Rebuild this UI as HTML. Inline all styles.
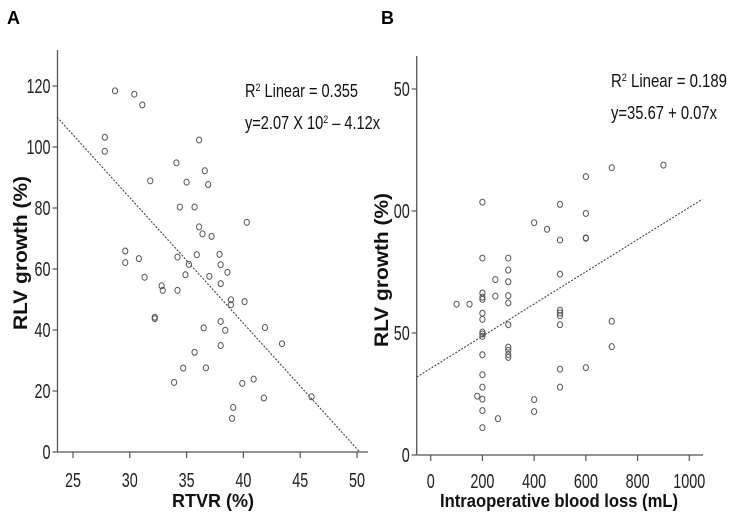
<!DOCTYPE html>
<html><head><meta charset="utf-8"><style>
html,body{margin:0;padding:0;background:#fff;}
svg{display:block;font-family:"Liberation Sans Narrow","Liberation Sans",sans-serif;}
</style></head><body>
<div style="position:relative;width:729px;height:532px">
<svg id="fig" width="729" height="532" viewBox="0 0 729 532" xmlns="http://www.w3.org/2000/svg">
<text x="7" y="24" font-family="Liberation Sans" font-weight="bold" font-size="18">A</text>
<text x="381" y="24" font-family="Liberation Sans" font-weight="bold" font-size="18">B</text>
<g id="pa"></g>
<g id="pb"></g>
</svg>
<div style="position:absolute;left:0;top:0;width:729px;height:532px;pointer-events:none">
<svg width="729" height="532" xmlns="http://www.w3.org/2000/svg" style="font-family:'Liberation Sans Narrow','Liberation Sans',sans-serif">
<text transform="translate(27,253) rotate(-90)" text-anchor="middle" font-family="Liberation Sans" font-weight="bold" font-size="19" fill="#111" textLength="154" lengthAdjust="spacingAndGlyphs">RLV growth (%)</text>
<text x="213" y="507" text-anchor="middle" font-family="Liberation Sans" font-weight="bold" font-size="18" fill="#111">RTVR (%)</text>
<text x="245" y="97" font-size="18" fill="#111" textLength="113" lengthAdjust="spacingAndGlyphs">R<tspan font-size="11" dy="-6">2</tspan><tspan dy="6"> Linear = 0.355</tspan></text>
<text x="245" y="129" font-size="18" fill="#111" textLength="135" lengthAdjust="spacingAndGlyphs">y=2.07 X 10<tspan font-size="11" dy="-6">2</tspan><tspan dy="6"> – 4.12x</tspan></text>
<text transform="translate(388,270) rotate(-90)" text-anchor="middle" font-family="Liberation Sans" font-weight="bold" font-size="19" fill="#111" textLength="154" lengthAdjust="spacingAndGlyphs">RLV growth (%)</text>
<text x="559" y="507" text-anchor="middle" font-family="Liberation Sans" font-weight="bold" font-size="18" fill="#111" textLength="238" lengthAdjust="spacingAndGlyphs">Intraoperative blood loss (mL)</text>
<text x="611" y="87" font-size="18" fill="#111" textLength="116" lengthAdjust="spacingAndGlyphs">R<tspan font-size="11" dy="-6">2</tspan><tspan dy="6"> Linear = 0.189</tspan></text>
<text x="611" y="119" font-size="18" fill="#111" textLength="106" lengthAdjust="spacingAndGlyphs">y=35.67 + 0.07x</text>
</svg>
</div>
</div>
<script>
// Panel A data
const aX = [28.7,30.4,31.1,27.8,27.8,36.1,34.1,36.6,35.0,36.9,31.8,34.4,35.7,40.3,36.1,36.4,37.2,29.6,29.6,30.8,34.2,35.9,35.2,37.9,38.0,38.6,37.0,34.9,31.3,32.8,32.9,34.2,38.0,38.9,38.9,40.1,32.2,32.2,38.0,36.5,38.4,41.9,43.4,38.0,35.7,34.7,36.7,33.9,39.9,40.9,41.8,46.0,39.1,39.0];
const aY = [118.4,117.3,113.8,103.2,98.6,102.3,94.8,92.2,88.5,87.7,88.9,80.3,80.3,75.3,73.8,71.5,70.7,65.9,62.1,63.4,63.9,64.7,61.5,64.8,61.4,58.9,57.6,58.1,57.3,54.5,53.0,53.0,55.2,49.9,48.3,49.3,44.2,43.7,42.8,40.7,39.9,40.8,35.5,34.9,32.7,27.5,27.6,22.8,22.5,23.9,17.7,18.1,14.6,11.0];
const aXTicks = [25,30,35,40,45,50];
const aYTicks = [0,20,40,60,80,100,120];
const aYTickLabels = ["0","20","40","60","80","100","120"];
const aLine = [207, -4.12]; // intercept, slope
// Panel B data
const bX = [100,150,200,200,200,200,200,200,200,200,200,200,200,200,200,180,200,200,200,250,250,260,300,300,300,300,300,300,300,300,300,300,400,400,400,450,500,500,500,500,500,500,500,500,500,600,600,600,600,600,700,700,700,900];
const bY = [61.8,61.8,103.6,80.7,66.4,64.7,63.8,58.1,55.6,50.4,49.6,48.6,41.1,32.9,27.8,24.1,22.9,18.2,11.2,71.9,65.1,14.9,80.7,75.8,71.0,65.3,62.3,53.4,44.2,42.9,41.2,40.0,95.2,22.7,17.8,92.5,102.7,88.1,74.1,59.3,58.2,57.1,53.4,35.2,27.8,114.1,99.0,89.0,88.8,35.8,117.7,54.8,44.4,118.8];
const bXTicks = [0,200,400,600,800,1000];
const bYTicks = [0,50,100,150];
const bYTickLabels = ["0","50","00","50"];
const bLine = [35.5, 0.066];

const NS="http://www.w3.org/2000/svg";
function mk(parent,tag,attrs,text){const e=document.createElementNS(NS,tag);for(const k in attrs)e.setAttribute(k,attrs[k]);if(text!==undefined)e.textContent=text;parent.appendChild(e);return e;}

function panel(g,cfg){
  const sx=v=>cfg.x0px+(v-cfg.x0v)*cfg.kx;
  const sy=v=>cfg.y0px-(v-cfg.y0v)*cfg.ky;
  const ya=mk(g,'line',{x1:cfg.axL,y1:cfg.axT,x2:cfg.axL,y2:cfg.axB,stroke:'#555','stroke-width':1.3});
  
  
  const xa=mk(g,'line',{x1:cfg.axL,y1:cfg.axB,x2:cfg.axR,y2:cfg.axB,stroke:'#555','stroke-width':1.3});
  
  
  cfg.yTicks.forEach((v,i)=>{
    const y=sy(v);
    const t=mk(g,'line',{x1:cfg.axL-5,y1:y,x2:cfg.axL,y2:y,stroke:'#555','stroke-width':1.2});
    
    
    const s=cfg.yLabels[i];
    const l=mk(g,'text',{x:cfg.axL-7,y:y+7,'text-anchor':'end','font-size':20,fill:'#222',textLength:s.length*8,lengthAdjust:'spacingAndGlyphs'},s);
    
    
  });
  cfg.xTicks.forEach(v=>{
    const x=sx(v);
    const t=mk(g,'line',{x1:x,y1:cfg.axB,x2:x,y2:cfg.axB+6,stroke:'#555','stroke-width':1.2});
    
    
    const s=String(v);
    const l=mk(g,'text',{x:x,y:cfg.axB+cfg.xLabOff,'text-anchor':'middle','font-size':20,fill:'#222',textLength:s.length*8,lengthAdjust:'spacingAndGlyphs'},s);
    
    
  });
  const xs=cfg.lineX0, xe=cfg.lineX1;
  const ln=mk(g,'line',{x1:sx(xs),y1:sy(cfg.line[0]+cfg.line[1]*xs),x2:sx(xe),y2:sy(cfg.line[0]+cfg.line[1]*xe),stroke:'#444','stroke-width':1.1,'stroke-dasharray':'2,1.5'});
  
  
  cfg.xs.forEach((v,i)=>{
    const c=mk(g,'ellipse',{cx:sx(v),cy:sy(cfg.ys[i]),rx:2.6,ry:3,fill:'none',stroke:'#555','stroke-width':1});
    
    
  });
}

const ga=document.getElementById('pa');
panel(ga,{x0v:25,x0px:73,kx:56.8/5,y0v:0,y0px:452,ky:366/120,axL:57.5,axR:368,axT:50,axB:452,xLabOff:35,
  xTicks:aXTicks,yTicks:aYTicks,yLabels:aYTickLabels,xs:aX,ys:aY,line:aLine,lineX0:23.6,lineX1:50.24});
const gb=document.getElementById('pb');
panel(gb,{x0v:0,x0px:430.7,kx:258.6/1000,y0v:0,y0px:455,ky:122/50,axL:416.7,axR:703,axT:56,axB:455,xLabOff:33,
  xTicks:bXTicks,yTicks:bYTicks,yLabels:bYTickLabels,xs:bX,ys:bY,line:bLine,lineX0:-54,lineX1:1050});
</script>
</body></html>
